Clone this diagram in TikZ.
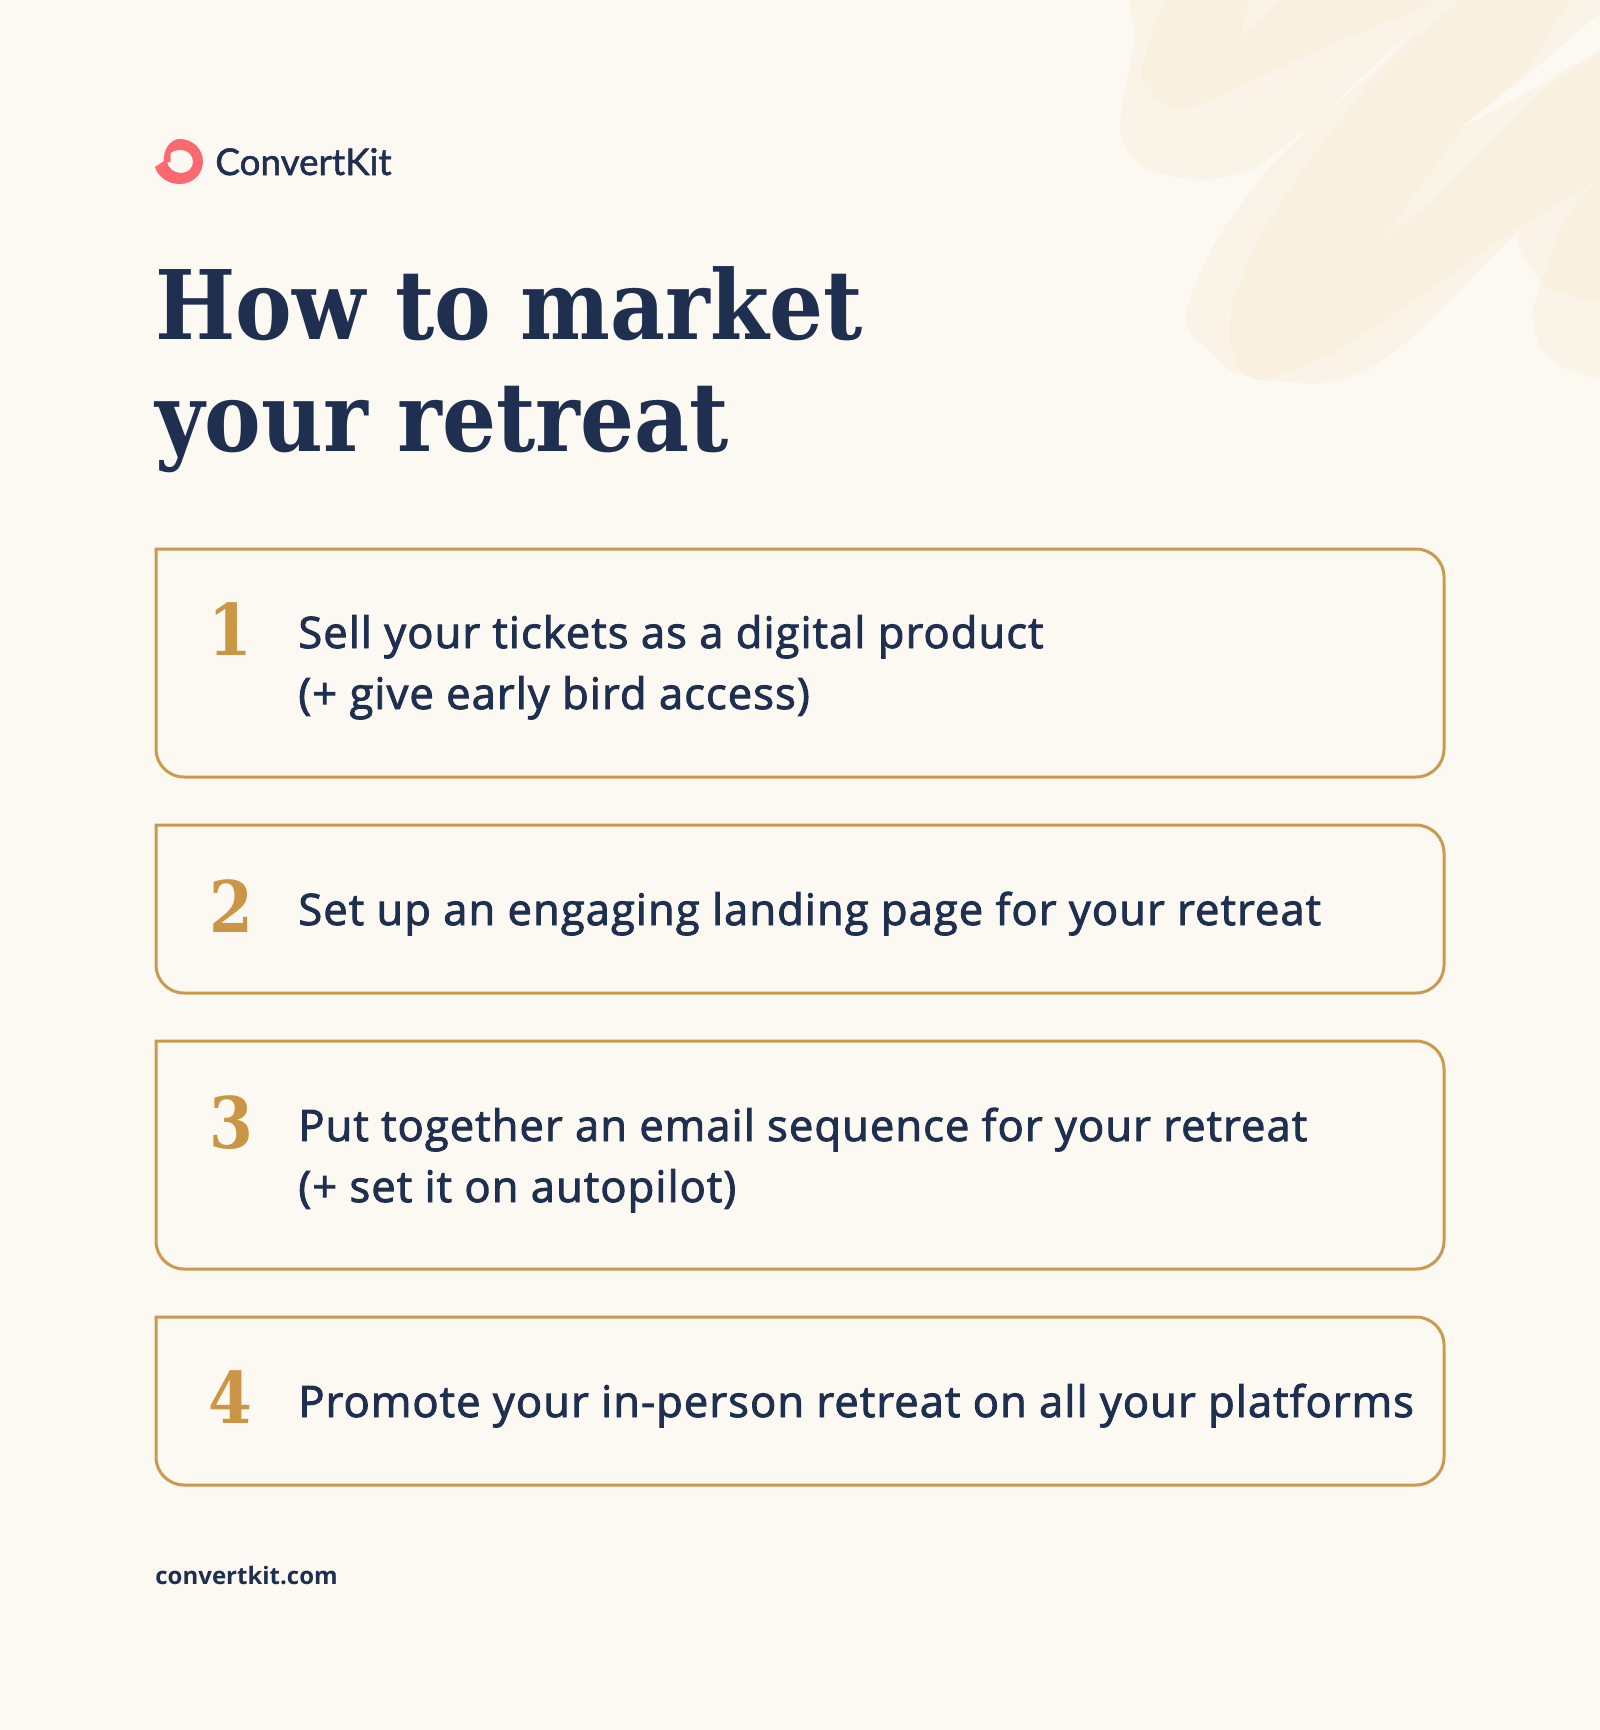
\documentclass[tikz,border=0pt]{standalone}
\usepackage{fontspec}
\usepackage{xcolor}
\setmainfont{Open Sans}
\newfontfamily\semifont[FakeBold=2.2,LetterSpace=2.6]{Open Sans}
\newfontfamily\headfont[FakeStretch=0.885]{DejaVu Serif}
\newfontfamily\logofont[FakeBold=1.5]{Lato}
\usetikzlibrary{positioning}
\definecolor{paper}{HTML}{FCF9F2}
\definecolor{ink}{HTML}{1F2F4F}
\definecolor{gold}{HTML}{C99A50}
\definecolor{numgold}{HTML}{CB9546}
\definecolor{coral}{HTML}{FB6970}
\definecolor{brushlight}{HTML}{FAF4E8}
\definecolor{brushdark}{HTML}{F9F0DF}
\tikzset{
  card/.style={draw=gold,line width=1.5pt},
  stepnum/.style={font=\headfont\bfseries\fontsize{35.6}{36}\selectfont,text=numgold,anchor=base west,inner sep=0pt},
  steptext/.style={font=\semifont\fontsize{21.7}{30.5}\selectfont,text=ink,anchor=base west,inner sep=0pt,align=left},
  headline/.style={font=\headfont\bfseries\fontsize{48}{56}\selectfont,text=ink,anchor=base west,inner sep=0pt,align=left},
  brush/.style={smooth cycle,tension=0.45},
}
\begin{document}
\begin{tikzpicture}[x=0.5pt,y=-0.5pt]
  \useasboundingbox (0,0) rectangle (1600,1730);
  \clip (0,0) rectangle (1600,1730);
  \fill[paper] (0,0) rectangle (1600,1730);

  % brush strokes
  \fill[brushlight] plot[brush] coordinates {(1152,-30) (1135,40) (1120,130) (1143,167) (1200,180) (1250,170) (1283,147) (1360,77) (1443,3) (1480,-30)};
  \fill[brushdark] plot[brush] coordinates {(1200,-30) (1143,63) (1150,90) (1163,103) (1190,107) (1233,90) (1333,43) (1433,3) (1470,-30)};
  \fill[brushlight] (1280,0) -- (1240,37) -- (1250,0) -- cycle;
  \fill[brushlight] plot[brush] coordinates {(1470,-30) (1360,77) (1283,150) (1217,240) (1187,307) (1190,333) (1207,347) (1230,370) (1267,380) (1320,383) (1367,370) (1417,333) (1467,283) (1523,227) (1640,120) (1640,-30)};
  \fill[brushdark] plot[smooth,tension=0.3] coordinates {(1467,-5) (1417,37) (1367,87) (1300,173) (1257,243) (1233,300) (1230,343) (1243,373) (1267,380) (1333,353) (1400,310) (1500,240) (1600,179)} -- (1600,53) -- (1543,90) -- (1433,200) -- (1378,245) -- (1410,200) -- (1460,133) -- (1527,70) -- (1573,-5) -- cycle;
  \fill[brushlight] plot[brush] coordinates {(1640,150) (1597,180) (1523,227) (1520,250) (1540,283) (1532,313) (1540,347) (1563,367) (1600,380) (1640,390)};
  \fill[brushdark] plot[brush] coordinates {(1640,130) (1597,180) (1567,217) (1543,280) (1560,293) (1600,302) (1640,310)};
  \fill[paper] (1443,3) -- (1370,75) -- (1283,148) -- (1266,170) -- (1355,84) -- cycle;
  \fill[paper] (1600,13) -- (1533,70) -- (1460,128) -- (1466,126) -- (1540,85) -- (1600,50) -- cycle;

  % logo
  \fill[coral,even odd rule] (180,139) .. controls (192.5,139) and (203,149) .. (203,161.5) .. controls (203,174) and (192.5,184) .. (180,184) .. controls (168,184) and (158,177) .. (155,167) -- (164,161) .. controls (163,150) and (170,139) .. (180,139) -- cycle
    (181,150) .. controls (188,150) and (193,155) .. (193,162) .. controls (193,168) and (188,173) .. (181,173) .. controls (174,173) and (168,168) .. (167,162) -- (170.5,162) -- (170.5,153) .. controls (173,151) and (177,150) .. (181,150) -- cycle;
  \node[font=\logofont\fontsize{18.4}{18}\selectfont,text=ink,anchor=base west,inner sep=0pt] (logo) at (215,175) {ConvertKit};

  % headline
  \node[headline] (title) at (155,451) {How to market\\your retreat};

  % cards
  \foreach \name/\ya/\yb/\yc in {a/549/777/600,b/825/993/880,c/1041/1269/1100,d/1317/1485/1370}
    \draw[card] (700,\ya) coordinate (\name) [rounded corners=14pt] -- (1444,\ya) -- (1444,\yb) -- (156,\yb) -- (156,\yc) [sharp corners] -- (156,\ya) -- cycle;

  \node[stepnum] (numa) at (208,655) {1};
  \node[stepnum] (numb) at (209,932) {2};
  \node[stepnum] (numc) at (209,1148) {3};
  \node[stepnum] (numd) at (208,1423) {4};

  \node[steptext] (stepa) at (298,709) {Sell your tickets as a digital product\\(+ give early bird access)};
  \node[steptext] (stepb) at (298,925) {Set up an engaging landing page for your retreat};
  \node[steptext] (stepc) at (298,1202) {Put together an email sequence for your retreat\\(+ set it on autopilot)};
  \node[steptext] (stepd) at (298,1417) {Promote your in-person retreat on all your platforms};

  % footer
  \node[font=\bfseries\fontsize{12}{12}\selectfont,text=ink,anchor=base west,inner sep=0pt] (site) at (155,1584) {convertkit.com};
\end{tikzpicture}
\end{document}
